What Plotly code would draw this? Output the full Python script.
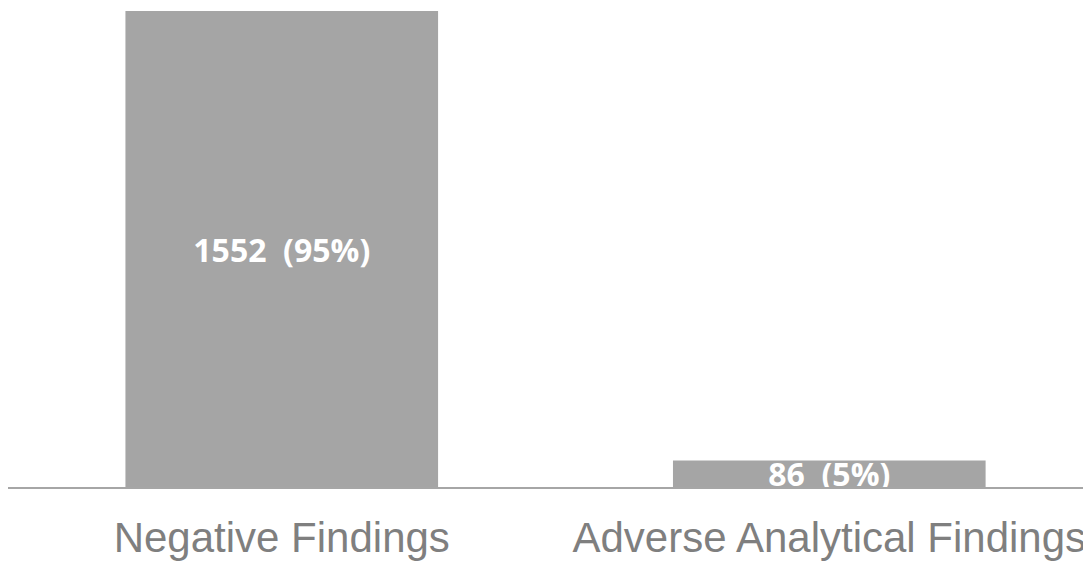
import plotly.graph_objects as go

categories = ["Negative Findings", "Adverse Analytical Findings"]
counts = [1552, 86]
percents = [95, 5]

bar_color = "#A5A5A5"
labels = [f"{c}  ({p}%)" for c, p in zip(counts, percents)]

fig = go.Figure()
fig.add_trace(go.Bar(
    x=categories,
    y=counts,
    marker=dict(color=bar_color, line=dict(width=0)),
    text=labels,
    textposition="inside",
    insidetextanchor="middle",
    textangle=0,
    constraintext="none",
    cliponaxis=False,
    textfont=dict(family="Open Sans", size=32, color="white", weight="bold"),
    hoverinfo="skip",
))

fig.update_layout(
    width=1083,
    height=554,
    margin=dict(l=0, r=0, t=3, b=75),
    paper_bgcolor="white",
    plot_bgcolor="white",
    bargap=0.429,
    showlegend=False,
    xaxis=dict(
        range=[-0.5, 1.478],
        showline=True,
        linecolor="#A6A6A6",
        linewidth=1.5,
        showgrid=False,
        zeroline=False,
        ticks="",
        automargin=False,
        ticklabelstandoff=13,
        tickfont=dict(family="Liberation Sans", size=42, color="#7F7F7F"),
    ),
    yaxis=dict(
        range=[0, 1552],
        visible=False,
        showgrid=False,
        zeroline=False,
        automargin=False,
    ),
)

fig.write_html("out.html")
